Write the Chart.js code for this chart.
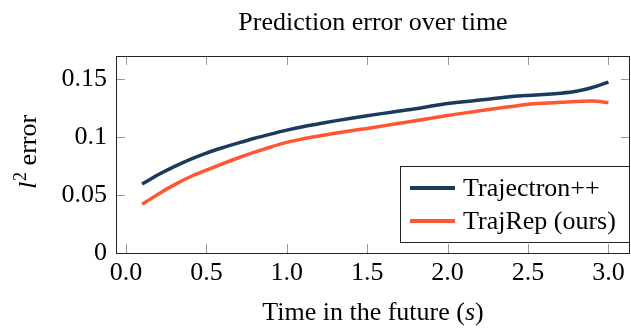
<!DOCTYPE html>
<html>
<head>
<meta charset="utf-8">
<script src="https://cdn.jsdelivr.net/npm/chart.js@4.4.0/dist/chart.umd.min.js"></script>
<style>
  html, body { margin: 0; padding: 0; background: #fff; }
</style>
</head>
<body>
<canvas id="chart" width="631" height="329"></canvas>
<script>
// values
const times = [0.1, 0.2, 0.3, 0.4, 0.5, 0.6, 0.7, 0.8, 0.9, 1.0,
               1.1, 1.2, 1.3, 1.4, 1.5, 1.6, 1.7, 1.8, 1.9, 2.0,
               2.1, 2.2, 2.3, 2.4, 2.5, 2.6, 2.7, 2.8, 2.9, 3.0];
const trajectron = [0.0595, 0.0675, 0.0745, 0.0808, 0.0862, 0.0908, 0.0950, 0.0990, 0.1026, 0.1060,
                    0.1090, 0.1115, 0.1140, 0.1163, 0.1185, 0.1205, 0.1225, 0.1245, 0.1268, 0.1290,
                    0.1305, 0.1320, 0.1335, 0.1350, 0.1360, 0.1368, 0.1378, 0.1395, 0.1428, 0.1475];
const trajrep = [0.0420, 0.0508, 0.0588, 0.0658, 0.0715, 0.0770, 0.0822, 0.0870, 0.0915, 0.0955,
                 0.0985, 0.1010, 0.1033, 0.1055, 0.1075, 0.1097, 0.1119, 0.1141, 0.1164, 0.1187,
                 0.1207, 0.1227, 0.1247, 0.1265, 0.1283, 0.1293, 0.1300, 0.1308, 0.1312, 0.1298];
const xTicks = [0, 0.5, 1, 1.5, 2, 2.5, 3];
const xTickLabels = ['0.0', '0.5', '1.0', '1.5', '2.0', '2.5', '3.0'];
const yTicks = [0, 0.05, 0.1, 0.15];
const yTickLabels = ['0', '0.05', '0.1', '0.15'];

const FONT = '"Liberation Serif", "Times New Roman", serif';
const NAVY = '#1c3a5e';
const ORANGE = '#ff5733';

// tick marks inside the box, frame, legend and axis titles
const framePlugin = {
    id: 'frame',
    beforeDatasetsDraw(chart) {
        const { ctx, chartArea: a, scales: { x, y } } = chart;
        ctx.save();
        ctx.strokeStyle = '#999';
        ctx.lineWidth = 1;
        ctx.beginPath();
        xTicks.forEach(v => {
            const px = Math.round(x.getPixelForValue(v)) + 0.5;
            ctx.moveTo(px, a.bottom); ctx.lineTo(px, a.bottom - 9);
            ctx.moveTo(px, a.top); ctx.lineTo(px, a.top + 9);
        });
        yTicks.forEach(v => {
            const py = Math.round(y.getPixelForValue(v)) + 0.5;
            ctx.moveTo(a.left, py); ctx.lineTo(a.left + 9, py);
            ctx.moveTo(a.right, py); ctx.lineTo(a.right - 9, py);
        });
        ctx.stroke();
        ctx.restore();
    },
    afterDatasetsDraw(chart) {
        const { ctx, chartArea: a } = chart;
        ctx.save();
        ctx.strokeStyle = '#222';
        ctx.lineWidth = 1;
        ctx.strokeRect(a.left + 0.5, a.top + 0.5, a.right - a.left - 1, a.bottom - a.top);

        // legend box
        const lx = 400, ly = 166, lw = a.right - 400, lh = 76;
        ctx.fillStyle = '#fff';
        ctx.fillRect(lx + 0.5, ly + 0.5, lw - 1, lh);
        ctx.strokeRect(lx + 0.5, ly + 0.5, lw - 1, lh);
        ctx.font = '26px ' + FONT;
        ctx.textBaseline = 'middle';
        ctx.textAlign = 'left';
        chart.data.datasets.forEach((ds, i) => {
            const cy = 188 + i * 33;
            ctx.strokeStyle = ds.borderColor;
            ctx.lineWidth = 4;
            ctx.beginPath();
            ctx.moveTo(410, cy); ctx.lineTo(455, cy);
            ctx.stroke();
            ctx.fillStyle = '#000';
            ctx.fillText(ds.label, 463, cy + 1);
        });

        // y axis title: l^2 error
        ctx.fillStyle = '#000';
        ctx.textBaseline = 'alphabetic';
        ctx.translate(36, 152.5);
        ctx.rotate(-Math.PI / 2);
        const fItal = 'italic 26px ' + FONT, fSup = '18px ' + FONT, fReg = '26px ' + FONT;
        ctx.font = fItal; const w1 = ctx.measureText('l').width;
        ctx.font = fSup; const w2 = ctx.measureText('2').width;
        ctx.font = fReg; const w3 = ctx.measureText(' error').width;
        let sx = -(w1 + w2 + w3) / 2;
        ctx.font = fItal; ctx.fillText('l', sx, 0); sx += w1 + 1;
        ctx.font = fSup; ctx.fillText('2', sx, -10); sx += w2;
        ctx.font = fReg; ctx.fillText(' error', sx, 0);
        ctx.restore();

        // x axis title: Time in the future (s)
        ctx.save();
        ctx.fillStyle = '#000';
        ctx.textBaseline = 'alphabetic';
        const p1 = 'Time in the future (', p2 = 's', p3 = ')';
        ctx.font = fReg; const a1 = ctx.measureText(p1).width, a3 = ctx.measureText(p3).width;
        ctx.font = fItal; const a2 = ctx.measureText(p2).width;
        let tx = (a.left + a.right) / 2 - (a1 + a2 + a3) / 2;
        const by = 320;
        ctx.font = fReg; ctx.fillText(p1, tx, by); tx += a1;
        ctx.font = fItal; ctx.fillText(p2, tx, by); tx += a2;
        ctx.font = fReg; ctx.fillText(p3, tx, by);
        ctx.restore();
    }
};

const ctx = document.getElementById('chart').getContext('2d');
new Chart(ctx, {
    type: 'line',
    data: {
        datasets: [{
            label: 'Trajectron++',
            data: times.map((t, i) => ({ x: t, y: trajectron[i] })),
            borderColor: NAVY,
            borderWidth: 3.5,
            pointRadius: 0,
            cubicInterpolationMode: 'monotone',
            fill: false
        }, {
            label: 'TrajRep (ours)',
            data: times.map((t, i) => ({ x: t, y: trajrep[i] })),
            borderColor: ORANGE,
            borderWidth: 3.5,
            pointRadius: 0,
            cubicInterpolationMode: 'monotone',
            fill: false
        }]
    },
    options: {
        responsive: false,
        animation: false,
        devicePixelRatio: 1,
        layout: { padding: { left: 0, right: 1, top: 0, bottom: 0 } },
        plugins: {
            legend: { display: false },
            tooltip: { enabled: false },
            title: {
                display: true,
                fullSize: false,
                text: 'Prediction error over time',
                color: '#000',
                font: { family: FONT, size: 26, weight: 'normal' },
                padding: { top: 8, bottom: 16.8 }
            }
        },
        scales: {
            x: {
                type: 'linear',
                min: -0.062,
                max: 3.134,
                afterBuildTicks: s => { s.ticks = xTicks.map(v => ({ value: v })); },
                afterFit: s => { s.height = 76; },
                grid: { display: false, drawTicks: false },
                border: { display: false },
                ticks: {
                    color: '#000',
                    padding: 5,
                    maxRotation: 0,
                    font: { family: FONT, size: 26 },
                    callback: (v, i) => xTickLabels[i]
                }
            },
            y: {
                type: 'linear',
                min: 0,
                max: 0.17,
                afterBuildTicks: s => { s.ticks = yTicks.map(v => ({ value: v })); },
                afterFit: s => { s.width = 116; },
                grid: { display: false, drawTicks: false },
                border: { display: false },
                ticks: {
                    color: '#000',
                    padding: 9,
                    font: { family: FONT, size: 26 },
                    callback: (v, i) => yTickLabels[i]
                }
            }
        }
    },
    plugins: [framePlugin]
});
</script>
</body>
</html>
